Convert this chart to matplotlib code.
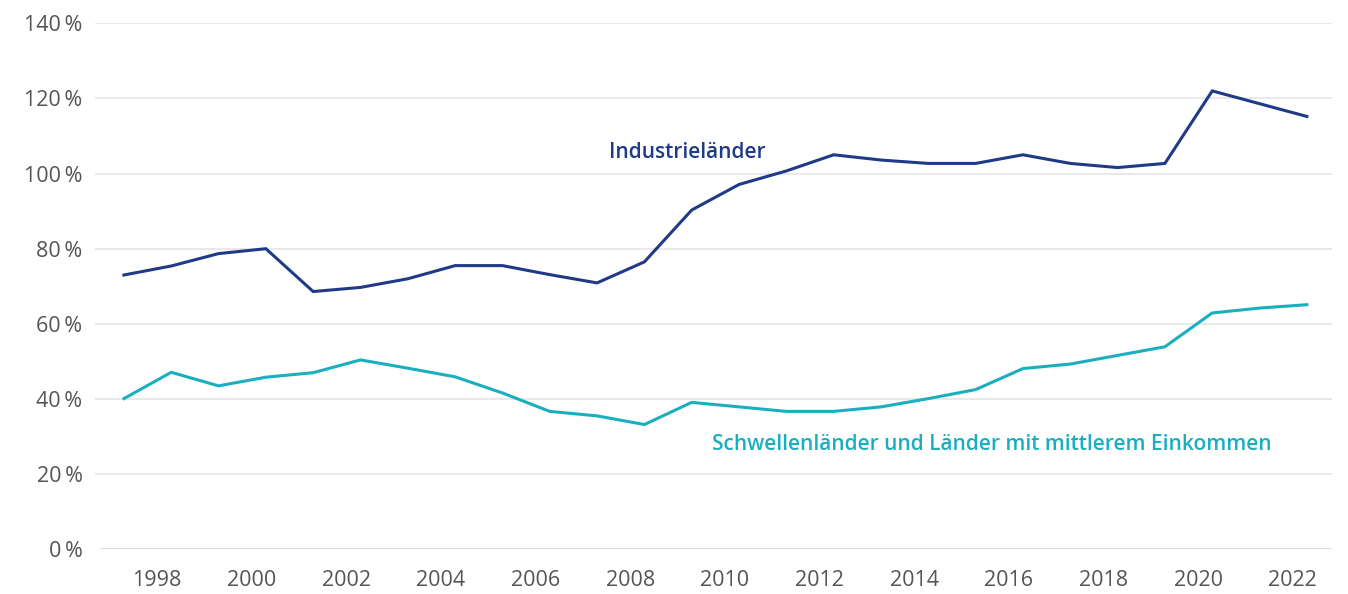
import numpy as np
import matplotlib
matplotlib.use("Agg")
import matplotlib.pyplot as plt

plt.rcParams['font.family'] = ['Open Sans', 'DejaVu Sans']

# Data (share of GDP, %)
years = np.arange(1997, 2023)
industrie = [73.0, 75.4, 78.7, 80.0, 68.6, 69.7, 72.0, 75.5, 75.5, 73.1,
             70.9, 76.5, 90.3, 97.1, 100.7, 105.0, 103.6, 102.7, 102.7, 105.0,
             102.7, 101.6, 102.7, 122.0, 118.6, 115.2]
schwellen = [40.1, 47.1, 43.5, 45.8, 47.0, 50.4, 48.2, 45.9, 41.6, 36.7,
             35.5, 33.2, 39.1, 37.9, 36.7, 36.7, 37.9, 40.1, 42.5, 48.1,
             49.3, 51.6, 53.9, 62.9, 64.2, 65.1]
tick_years = list(range(1998, 2023, 2))
y_ticks = [0, 20, 40, 60, 80, 100, 120, 140]

NAVY = '#1f3a87'
TEAL = '#1aafbf'
GRID = '#e3e3e3'
TXT = '#555555'

fig = plt.figure(figsize=(13.48, 5.94), dpi=100)
ax = fig.add_axes([0.0705, 0.0753, 0.9176, 0.8855])

ax.plot(years, industrie, color=NAVY, lw=2.2, solid_joinstyle='miter')
ax.plot(years, schwellen, color=TEAL, lw=2.2, solid_joinstyle='miter')

ax.set_xlim(1996.39, 2022.53)
ax.set_ylim(0, 140)
ax.set_yticks(y_ticks)
ax.set_yticklabels([f'{v}\u2009%' for v in y_ticks])
ax.set_xticks([y - 0.3 for y in tick_years])
ax.set_xticklabels([str(y) for y in tick_years])
ax.tick_params(axis='both', length=0, labelsize=15.5, colors=TXT)
ax.tick_params(axis='y', pad=9)
ax.tick_params(axis='x', pad=15)

for v in y_ticks[1:]:
    ax.axhline(v, color=GRID, lw=1.1, zorder=0)
ax.axhline(0, xmin=0.005, color='#d6d6d6', lw=2, zorder=0)
for s in ax.spines.values():
    s.set_visible(False)

ax.text(2008.9, 105.7, 'Industrieländer', color=NAVY, fontsize=15,
        fontweight='semibold', ha='center', va='center')
ax.text(2015.35, 28.0, 'Schwellenländer und Länder mit mittlerem Einkommen',
        color=TEAL, fontsize=15, fontweight='semibold', ha='center', va='center')

fig.savefig('out.png', dpi=100)
